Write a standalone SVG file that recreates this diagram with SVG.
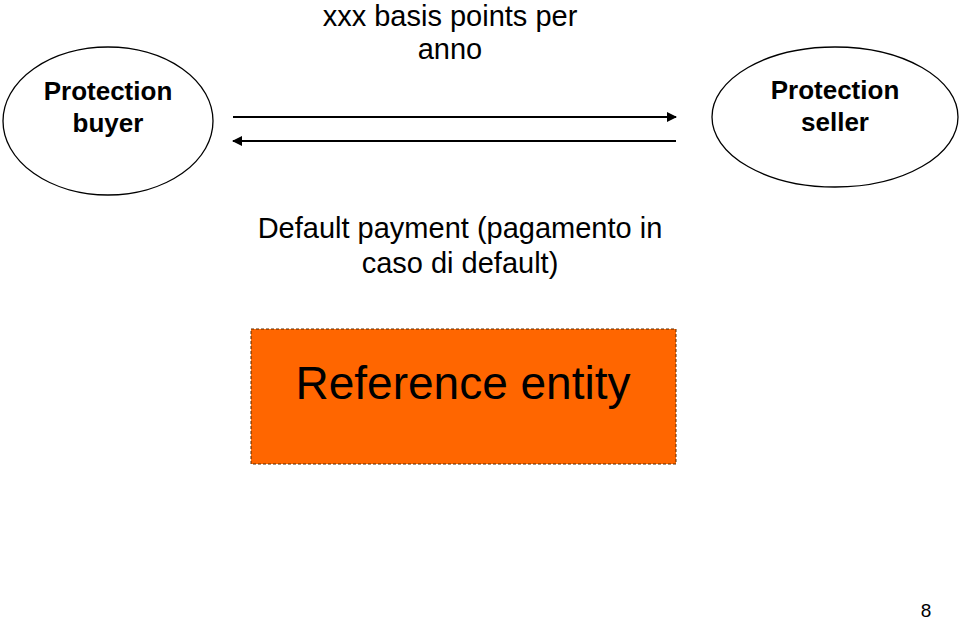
<svg xmlns="http://www.w3.org/2000/svg" width="960" height="620" viewBox="0 0 960 620">
<defs>
<style>
.t{font-family:"Liberation Sans",Arial,sans-serif;fill:#000;text-anchor:middle}
.b{font-weight:bold;font-size:26px}
.n{font-size:29px}
.node{fill:#fff;stroke:#000;stroke-width:1.3}
.con{stroke:#000;stroke-width:2;fill:none}
</style>
<marker id="ah" viewBox="0 0 10 10" refX="9" refY="5" markerWidth="5" markerHeight="5" orient="auto-start-reverse" markerUnits="strokeWidth">
<path d="M0,0 L10,5 L0,10 z" fill="#000"/>
</marker>
</defs>
<rect width="960" height="620" fill="#fff"/>
<g id="buyer">
<ellipse class="node" cx="108" cy="121" rx="105" ry="74"/>
<text class="t b" x="108" y="100">Protection</text>
<text class="t b" x="108" y="132">buyer</text>
</g>
<g id="seller">
<ellipse class="node" cx="835" cy="117" rx="123" ry="70"/>
<text class="t b" x="835" y="99">Protection</text>
<text class="t b" x="835" y="131">seller</text>
</g>
<g id="connectors">
<line class="con" x1="233" y1="117" x2="676" y2="117" marker-end="url(#ah)"/>
<line class="con" x1="676" y1="141" x2="233" y2="141" marker-end="url(#ah)" stroke="#333"/>
</g>
<g id="labels">
<text class="t n" x="450" y="26">xxx basis points per</text>
<text class="t n" x="450" y="59">anno</text>
<text class="t n" x="460" y="238">Default payment (pagamento in</text>
<text class="t n" x="460" y="273">caso di default)</text>
</g>
<g id="reference">
<rect x="251" y="329" width="425" height="135" fill="#FF6600" stroke="#5a2a00" stroke-width="1" stroke-dasharray="3,2"/>
<text class="t" x="463" y="399" font-size="46">Reference entity</text>
</g>
<text class="t" x="926" y="617" font-size="19">8</text>
</svg>
